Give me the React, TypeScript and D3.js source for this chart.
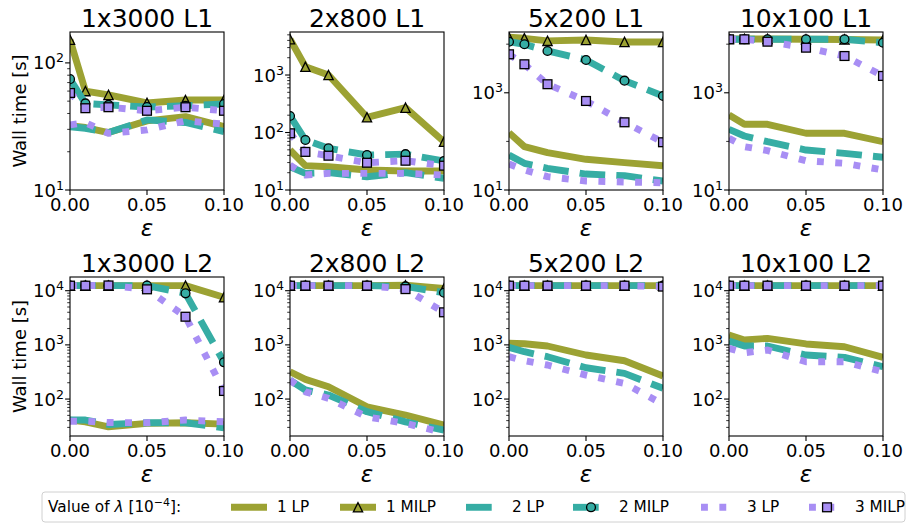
import React from 'react';
import * as d3 from 'd3';

// ---------------- data ----------------
const EPSILON = [0, 0.01, 0.025, 0.05, 0.075, 0.1];
const X_TICKS = [0, 0.05, 0.1];
const PANEL_TITLES = ['1x3000 L1', '2x800 L1', '5x200 L1', '10x100 L1', '1x3000 L2', '2x800 L2', '5x200 L2', '10x100 L2'];
const Y_MIN = [10, 10, 10, 10, 20.8, 20.8, 20.8, 20.8];
const Y_MAX = [175, 5600, 17800, 17800, 17900, 17900, 17900, 17900];
const Y_STRIDE = [1, 1, 2, 2, 1, 1, 1, 1];
const SERIES_LABELS = ['1 LP', '1 MILP', '2 LP', '2 MILP', '3 LP', '3 MILP'];

// one row per panel, in the order of PANEL_TITLES
const LP1 = [
  [32, 31, 28.3, 35, 37.8, 31.5],
  [49.6, 26.5, 25.4, 22.3, 21.4, 21.4],
  [151, 78, 58.6, 42.8, 36.5, 31.6],
  [349, 225, 225, 147, 147, 98.6],
  [40.9, 38.1, 30.8, 35.5, 36.5, 34.5],
  [319, 231, 169, 72, 50.7, 33],
  [1070, 1050, 953, 650, 510, 266],
  [1520, 1230, 1320, 1040, 925, 589],
];
const MILP1 = [
  [152, 60, 56, 48.4, 51, 51],
  [4200, 1390, 1000, 184, 270, 69],
  [13900, 13200, 11700, 12200, 11100, 11100],
  [12800, 12800, 12800, 12600, 12500, 12200],
  [12400, 12400, 12400, 12400, 12400, 7550],
  [12400, 12400, 12400, 12400, 12600, 11000],
  [12400, 12400, 12400, 12400, 12400, 12400],
  [12400, 12400, 12400, 12400, 12400, 12400],
];
const LP2 = [
  [31.5, 30.6, 28.3, 35.6, 34, 28.8],
  [25.4, 19.5, 20, 17, 20, 16],
  [52.5, 35.4, 27.9, 21.3, 19.7, 15.3],
  [177, 129, 98.6, 66.5, 56.7, 47],
  [41, 41, 34, 36.5, 36.5, 29.5],
  [224, 147, 118.6, 58.4, 38, 26.7],
  [902, 748, 605, 378, 298, 158],
  [1175, 953, 953, 650, 589, 395],
];
const MILP2 = [
  [74.5, 48, 46.7, 45, 46, 47.5],
  [194, 74, 53, 40.6, 42, 32],
  [11200, 9950, 7250, 4730, 1775, 860],
  [12600, 12600, 12600, 12600, 12600, 10700],
  [12400, 12400, 12400, 12400, 8950, 477],
  [12400, 12400, 12400, 12400, 12000, 9180],
  [12400, 12400, 12400, 12400, 12400, 12400],
  [12400, 12400, 12400, 12400, 12400, 12400],
];
const LP3 = [
  [32.5, 33.9, 27.9, 29.7, 35, 33],
  [27.2, 18.2, 19.5, 19.5, 19.5, 18.2],
  [34.3, 25.8, 18.8, 15.3, 14.6, 14.1],
  [116, 78, 64.4, 40, 35.4, 25.8],
  [39, 39, 37, 36.5, 41, 38],
  [224, 136, 103, 47, 35.5, 23.9],
  [605, 509, 425, 277, 195, 80],
  [863, 716, 803, 489, 489, 319],
];
const MILP3 = [
  [58, 44, 44.8, 42, 44.8, 42],
  [97, 46, 39.5, 29.8, 32.3, 26.5],
  [6190, 3860, 1500, 678, 247, 96],
  [12600, 12600, 11250, 8470, 5710, 2220],
  [12400, 12400, 12500, 10600, 3310, 141],
  [12400, 12400, 12400, 12400, 10700, 3990],
  [12400, 12400, 12400, 12400, 12400, 11900],
  [12400, 12400, 12400, 12400, 12400, 12400],
];

// ---------------- style / layout ----------------
const COLORS = ['#9ca233', '#36ada4', '#a88ef4'];
const LW = 6.9;
const DASHES = ['none', '25.7,11.1', '6.9,11.45'];
const SERIES = [
  { label: SERIES_LABELS[0], data: LP1, c: 0, marker: null },
  { label: SERIES_LABELS[1], data: MILP1, c: 0, marker: 'tri' },
  { label: SERIES_LABELS[2], data: LP2, c: 1, marker: null },
  { label: SERIES_LABELS[3], data: MILP2, c: 1, marker: 'circ' },
  { label: SERIES_LABELS[4], data: LP3, c: 2, marker: null },
  { label: SERIES_LABELS[5], data: MILP3, c: 2, marker: 'sq' },
];
const COL_LEFT = [70, 290, 509, 729];
const ROW_TOP = [32, 277];
const ROW_H = [158, 159];
const PW = 154;
const FONT = 'DejaVu Sans, sans-serif';
const MS = 9.3;

function Marker({ kind, cx, cy, color }: { kind: string; cx: number; cy: number; color: string }) {
  const h = MS / 2;
  const common = { fill: color, stroke: '#000', strokeWidth: 1.3 };
  if (kind === 'tri') {
    return <path d={`M${cx},${cy - h}L${cx - h},${cy + h}L${cx + h},${cy + h}Z`} {...common} />;
  }
  if (kind === 'circ') return <circle cx={cx} cy={cy} r={h * 0.95} {...common} />;
  return <rect x={cx - h * 0.95} y={cy - h * 0.95} width={MS * 0.95} height={MS * 0.95} {...common} />;
}

function Panel({ idx }: { idx: number }) {
  const row = Math.floor(idx / 4);
  const col = idx % 4;
  const left = COL_LEFT[col];
  const top = ROW_TOP[row];
  const h = ROW_H[row];
  const bottom = top + h;
  const x = d3.scaleLinear().domain([0, 0.1]).range([left, left + PW]);
  const y = d3.scaleLog().domain([Y_MIN[idx], Y_MAX[idx]]).range([bottom, top]);
  const lo = Math.ceil(Math.log10(Y_MIN[idx]) - 1e-9);
  const hi = Math.floor(Math.log10(Y_MAX[idx]) + 1e-9);
  const stride = Y_STRIDE[idx];
  const majors: number[] = [];
  const minors: number[] = [];
  for (let e = lo; e <= hi; e++) {
    if ((e - lo) % stride === 0) majors.push(e);
    else minors.push(Math.pow(10, e));
  }
  if (stride === 1) {
    for (let e = lo - 1; e <= hi; e++) {
      for (let m = 2; m <= 9; m++) {
        const v = m * Math.pow(10, e);
        if (v >= Y_MIN[idx] && v <= Y_MAX[idx]) minors.push(v);
      }
    }
  }
  const line = d3.line<number>().x((_, i) => x(EPSILON[i])).y((d) => y(d));
  const clipId = `clip-${idx}`;
  const cx = left + PW / 2;
  return (
    <g>
      <defs>
        <clipPath id={clipId}>
          <rect x={left} y={top} width={PW} height={h} />
        </clipPath>
      </defs>
      <g clipPath={`url(#${clipId})`}>
        {SERIES.map((s, si) => (
          <g key={si}>
            <path d={line(s.data[idx]) || ''} fill="none" stroke={COLORS[s.c]} strokeWidth={LW}
              strokeDasharray={DASHES[s.c]} strokeLinecap="butt" strokeLinejoin="round" />
            {s.marker && s.data[idx].map((v, i) => (
              <Marker key={i} kind={s.marker as string} cx={x(EPSILON[i])} cy={y(v)} color={COLORS[s.c]} />
            ))}
          </g>
        ))}
      </g>
      {X_TICKS.map((t) => (
        <g key={t}>
          <line x1={x(t)} x2={x(t)} y1={bottom} y2={bottom + 4.9} stroke="#000" strokeWidth={1.1} />
          <text x={x(t)} y={bottom + 20.5} textAnchor="middle" fontSize={18} fontFamily={FONT}>{d3.format('.2f')(t)}</text>
        </g>
      ))}
      {minors.map((v, i) => (
        <line key={`m${i}`} x1={left - 2.8} x2={left} y1={y(v)} y2={y(v)} stroke="#000" strokeWidth={0.8} />
      ))}
      {majors.map((e) => {
        const ty = y(Math.pow(10, e));
        return (
          <g key={`M${e}`}>
            <line x1={left - 4.9} x2={left} y1={ty} y2={ty} stroke="#000" strokeWidth={1.1} />
            <text x={left - 6} y={ty + 6.5} textAnchor="end" fontSize={18} fontFamily={FONT}>
              10<tspan dy={-7} fontSize={12.6}>{String(e)}</tspan>
            </text>
          </g>
        );
      })}
      <rect x={left} y={top} width={PW} height={h} fill="none" stroke="#000" strokeWidth={1.1} />
      <text x={cx} y={top - 5.5} textAnchor="middle" fontSize={25} fontFamily={FONT}>{PANEL_TITLES[idx]}</text>
      <text x={cx} y={bottom + 46} textAnchor="middle" fontSize={23} fontStyle="italic" fontFamily={FONT}>ε</text>
      {col === 0 && (
        <text transform={`translate(26,${top + h / 2}) rotate(-90)`} textAnchor="middle" fontSize={18} fontFamily={FONT}>
          Wall time [s]
        </text>
      )}
    </g>
  );
}

const LEGEND_TEXT_X = [277, 386, 512, 619, 747, 855];
const HANDLE_LEN = 36;

function Legend() {
  const cy = 507.3;
  const fs = 15.3;
  return (
    <g fontFamily={FONT}>
      <rect x={42} y={492} width={863} height={30} rx={3} fill="#fff" stroke="#d0d0d0" strokeWidth={1} />
      <text x={48} y={512} fontSize={fs}>
        Value of <tspan fontStyle="italic">λ</tspan> [10<tspan dy={-6} fontSize={11}>−4</tspan><tspan dy={6}>]:</tspan>
      </text>
      {SERIES.map((s, i) => {
        const x0 = LEGEND_TEXT_X[i] - 46;
        return (
          <g key={i}>
            <line x1={x0} x2={x0 + HANDLE_LEN} y1={cy} y2={cy} stroke={COLORS[s.c]} strokeWidth={LW} strokeDasharray={DASHES[s.c]} />
            {s.marker && <Marker kind={s.marker} cx={x0 + HANDLE_LEN / 2} cy={cy} color={COLORS[s.c]} />}
            <text x={LEGEND_TEXT_X[i]} y={512} fontSize={fs}>{s.label}</text>
          </g>
        );
      })}
    </g>
  );
}

export default function App() {
  return (
    <svg width={908} height={523} style={{ position: 'absolute', left: 0, top: 0, background: '#fff' }}>
      <rect x={0} y={0} width={908} height={523} fill="#fff" />
      {PANEL_TITLES.map((_, i) => (
        <Panel key={i} idx={i} />
      ))}
      <Legend />
    </svg>
  );
}
